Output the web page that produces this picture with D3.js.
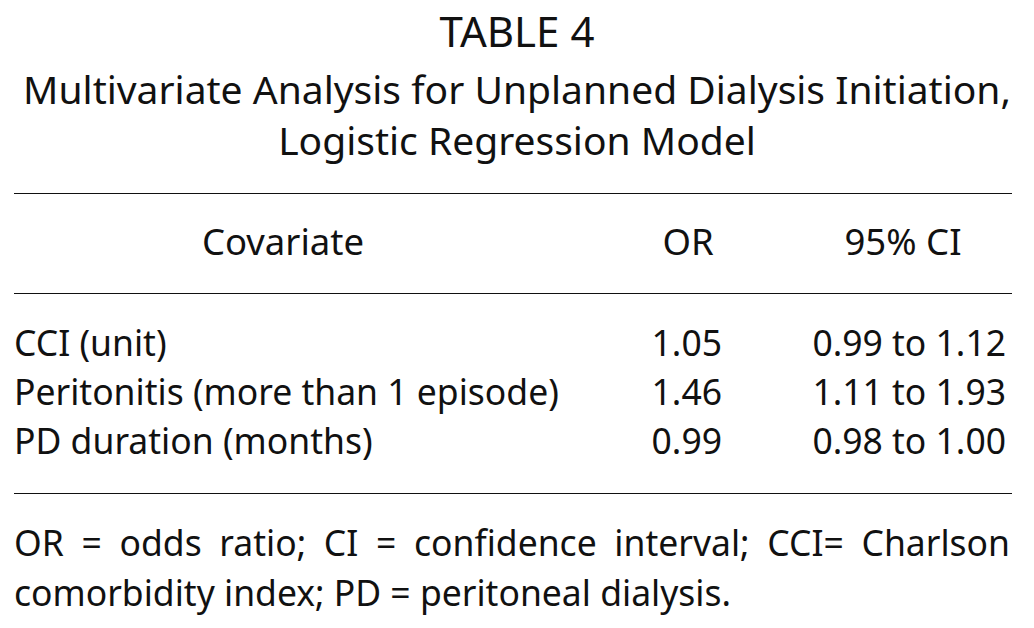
<!DOCTYPE html>
<html>
<head>
<meta charset="utf-8">
<script src="https://cdn.jsdelivr.net/npm/d3@7"></script>
<style>
  body { margin: 0; background: #fff; }
  text { font-family: "Noto Sans", "Open Sans", sans-serif; fill: #111; }
</style>
</head>
<body>
<div id="table4"></div>
<script>
// table content
var titleLines = ["TABLE 4", "Multivariate Analysis for Unplanned Dialysis Initiation,", "Logistic Regression Model"];
var headers = ["Covariate", "OR", "95% CI"];
var covariates = ["CCI (unit)", "Peritonitis (more than 1 episode)", "PD duration (months)"];
var oddsRatios = ["1.05", "1.46", "0.99"];
var ciRanges = ["0.99 to 1.12", "1.11 to 1.93", "0.98 to 1.00"];
var footnote = ["OR = odds ratio; CI = confidence interval; CCI= Charlson", "comorbidity index; PD = peritoneal dialysis."];

var width = 1034, height = 628;
var svg = d3.select("#table4").append("svg")
    .attr("width", width)
    .attr("height", height);

var left = 14, right = 1012;

// title
svg.selectAll(".title")
    .data(titleLines)
    .enter().append("text")
    .attr("class", "title")
    .attr("x", width / 2)
    .attr("y", function(d, i) { return i === 0 ? 47 : 53 + i * 51; })
    .attr("text-anchor", "middle")
    .style("font-size", function(d, i) { return i === 0 ? "42px" : "39px"; })
    .text(function(d) { return d; });

// rules
svg.selectAll(".rule")
    .data([193, 293, 493])
    .enter().append("line")
    .attr("class", "rule")
    .attr("x1", left).attr("x2", right)
    .attr("y1", function(d) { return d + 0.5; })
    .attr("y2", function(d) { return d + 0.5; })
    .attr("stroke", "#111")
    .attr("stroke-width", 1.2);

// header
var headX = [283, 688, 903];
svg.selectAll(".head")
    .data(headers)
    .enter().append("text")
    .attr("class", "head")
    .attr("x", function(d, i) { return headX[i]; })
    .attr("y", 255)
    .attr("text-anchor", "middle")
    .style("font-size", "36.5px")
    .text(function(d) { return d; });

// rows
var rowY = d3.scalePoint().domain(d3.range(covariates.length)).range([356, 454]);

var rows = svg.selectAll(".row")
    .data(covariates)
    .enter().append("g")
    .attr("class", "row")
    .attr("transform", function(d, i) { return "translate(0," + rowY(i) + ")"; });

rows.append("text")
    .attr("x", left)
    .style("font-size", "35.5px")
    .text(function(d) { return d; });

rows.append("text")
    .attr("x", 722)
    .attr("text-anchor", "end")
    .style("font-size", "35.5px")
    .text(function(d, i) { return oddsRatios[i]; });

rows.append("text")
    .attr("x", 1006)
    .attr("text-anchor", "end")
    .style("font-size", "35.5px")
    .text(function(d, i) { return ciRanges[i]; });

// footnote, first line justified by widening the word gaps
var foot = svg.selectAll(".foot")
    .data(footnote)
    .enter().append("text")
    .attr("class", "foot")
    .attr("x", left)
    .attr("y", function(d, i) { return 556 + i * 50; })
    .style("font-size", "35.5px")
    .text(function(d) { return d; });

foot.filter(function(d, i) { return i === 0; })
    .each(function(d) {
        var natural = this.getComputedTextLength();
        var gaps = d.split(" ").length - 1;
        var extra = (1010 - left - natural) / gaps;
        if (extra > 0) d3.select(this).style("word-spacing", extra + "px");
    });
</script>
</body>
</html>
